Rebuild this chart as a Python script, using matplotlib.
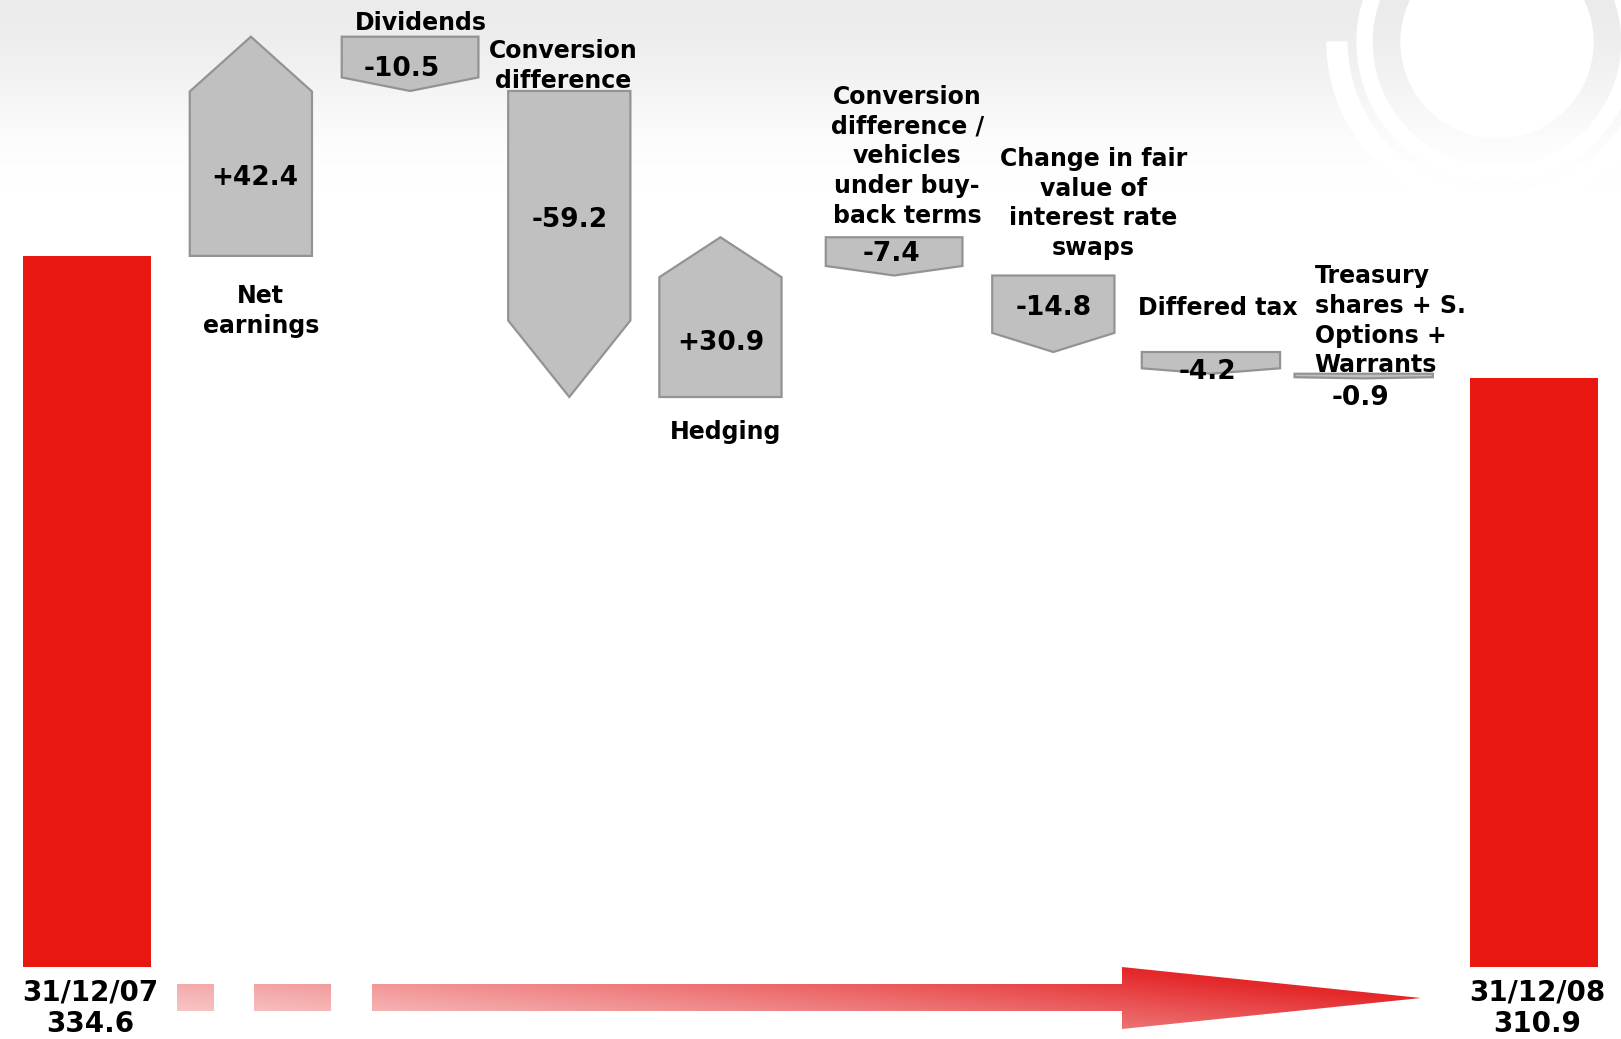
import numpy as np
import matplotlib
matplotlib.use("Agg")
import matplotlib.pyplot as plt
from matplotlib.patches import Polygon, Circle, Wedge, PathPatch
from matplotlib.path import Path

plt.rcParams["font.family"] = ["DejaVu Sans"]
plt.rcParams["font.weight"] = "bold"

# equity bridge 31/12/07 -> 31/12/08
start_date = "31/12/07"
end_date = "31/12/08"
start_value = 334.6
end_value = 310.9
categories = ["Net\nearnings", "Dividends", "Conversion\ndifference", "Hedging",
              "Conversion\ndifference /\nvehicles\nunder buy-\nback terms",
              "Change in fair\nvalue of\ninterest rate\nswaps",
              "Differed tax", "Treasury\nshares + S.\nOptions +\nWarrants"]
changes = [42.4, -10.5, -59.2, 30.9, -7.4, -14.8, -4.2, -0.9]

# layout
xpos = [1.02, 2.01, 3.0, 3.94, 5.02, 6.01, 6.99, 7.94]
widths = [0.76, 0.85, 0.76, 0.76, 0.85, 0.76, 0.86, 0.86]
# label offsets in pixels (dx, dy) from box top (falls) / box bottom (rises)
label_off = [(10, -55), (11, 14), (-6, 25), (5, -35), (13, 81), (40, 72), (7, 44), (-49, 53)]
label_ha = ["center"] * 7 + ["left"]
# value text nudges in pixels (dx, dy) from the middle of the box body
value_off = [(4, -4), (-8, -12), (0, -14), (0, -6), (-3, -2), (0, -4), (-3, -12), (-3, -23)]
BASE = 197.0
RED = "#e8170f"
GREY_FILL = "#c0c0c0"
GREY_EDGE = "#939393"
W, H = 1621, 1039

fig = plt.figure(figsize=(W / 100, H / 100), dpi=100)

# background: grey fade at the top + white rings top right
bg = fig.add_axes([0, 0, 1, 1])
bg.set_xlim(0, W)
bg.set_ylim(H, 0)
bg.axis("off")
yy = np.arange(H) / 190.0
s = np.clip(yy, 0, 1)
s = s * s * (3 - 2 * s)
shade = 0.925 + 0.075 * s
img = np.repeat(shade[:, None, None], 3, axis=2)
bg.imshow(img, extent=(0, W, H, 0), aspect="auto", zorder=0)
cx, cy = 1497, 42
bg.add_patch(Circle((cx, cy), 96, color="white", zorder=1))
bg.add_patch(Wedge((cx, cy), 140, 0, 360, width=15, color="white", zorder=1))
bg.add_patch(Wedge((cx, cy), 170, 0, 180, width=20, color="white", zorder=1))

# pink timeline arrow along the bottom
verts, codes = [], []
def rect(x0, x1, y0, y1):
    verts.extend([(x0, y0), (x1, y0), (x1, y1), (x0, y1), (x0, y0)])
    codes.extend([Path.MOVETO] + [Path.LINETO] * 3 + [Path.CLOSEPOLY])
rect(177, 214, 984, 1011)
rect(254, 331, 984, 1011)
verts.extend([(372, 984), (1122, 984), (1122, 967), (1421, 998), (1122, 1029),
              (1122, 1011), (372, 1011), (372, 984)])
codes.extend([Path.MOVETO] + [Path.LINETO] * 6 + [Path.CLOSEPOLY])
arrow = PathPatch(Path(verts, codes), fc="none", ec="none")
bg.add_patch(arrow)
gx = np.linspace(0, 1, 400)[None, :]
gy = np.linspace(0, 1, 70)[:, None]
t = np.clip(0.12 + 0.72 * gx + 0.35 * (1 - gy), 0, 1) ** 1.3
light = np.array([251, 222, 222]) / 255
dark = np.array([228, 40, 42]) / 255
grad = light + (dark - light) * t[..., None]
gi = bg.imshow(grad, extent=(177, 1421, 1029, 967), aspect="auto", zorder=2)
gi.set_clip_path(arrow)

# waterfall
ax = fig.add_axes([0, 0, 1, 1])
ax.set_facecolor("none")
ax.set_xlim(-0.54, 9.54)
ax.set_ylim(183.1, 384.1)
ax.axis("off")

n = len(changes)
ax.bar([0, n + 1], [start_value - BASE, end_value - BASE], bottom=BASE,
       width=0.8, color=RED, zorder=2)

cum = np.concatenate([[start_value], start_value + np.cumsum(changes)])
for i, d in enumerate(changes):
    x = xpos[i]
    y0, y1 = cum[i], cum[i + 1]
    w = widths[i]
    shoulder = y1 - 0.25 * d
    pts = [(x - w / 2, y0), (x + w / 2, y0), (x + w / 2, shoulder), (x, y1), (x - w / 2, shoulder)]
    ax.add_patch(Polygon(pts, closed=True, fc=GREY_FILL, ec=GREY_EDGE, lw=1.6, zorder=2))
    ax.annotate(f"{d:+.1f}", (x, (y0 + shoulder) / 2), xytext=value_off[i],
                textcoords="offset pixels", ha="center", va="center",
                fontsize=19, fontweight="bold", zorder=3)
    anchor = y0 if d > 0 else max(y0, y1)
    dx, dy = label_off[i]
    ax.annotate(categories[i], (x, anchor), xytext=(dx, dy), textcoords="offset pixels",
                ha=label_ha[i], va="center", multialignment=label_ha[i],
                fontsize=17, fontweight="bold", linespacing=1.3, zorder=3)

for x, lab, v in [(0, start_date, start_value), (n + 1, end_date, end_value)]:
    ax.annotate(f"{lab}\n{v:.1f}", (x, BASE), xytext=(3, -41), textcoords="offset pixels",
                ha="center", va="center", fontsize=20, fontweight="bold", linespacing=1.15)

fig.savefig("out.png", dpi=100, facecolor="white")
